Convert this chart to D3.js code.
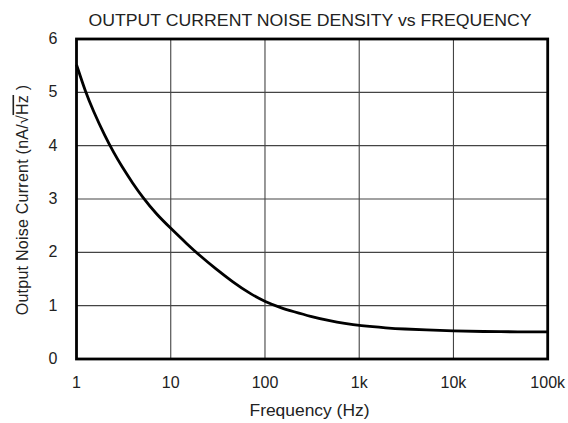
<!DOCTYPE html>
<html>
<head>
<meta charset="utf-8">
<script src="https://cdn.jsdelivr.net/npm/d3@7"></script>
<style>
  body { margin: 0; background: #fff; }
  text { font-family: "Liberation Sans", Arial, sans-serif; fill: #222; }
</style>
</head>
<body>
<div class="chart"></div>
<script>
// Data
var freqs = [1, 1.25, 1.5, 2, 2.5, 3, 4, 5, 7, 10, 15, 20, 30, 45, 70, 100, 150, 200, 300, 500, 700,
             1000, 2000, 3000, 5000, 10000, 20000, 50000, 100000];
var noise = [5.52, 5.0, 4.66, 4.18, 3.86, 3.62, 3.28, 3.04, 2.72, 2.45, 2.15, 1.95, 1.69, 1.45, 1.22,
             1.075, 0.955, 0.89, 0.8, 0.71, 0.665, 0.625, 0.58, 0.562, 0.545, 0.527, 0.515, 0.508, 0.51];
var xTicks = [1, 10, 100, 1000, 10000, 100000];
var xTickLabels = ["1", "10", "100", "1k", "10k", "100k"];
var yTicks = [0, 1, 2, 3, 4, 5, 6];

var svgWidth = 568, svgHeight = 423;
var margin = {top: 39, left: 76.5};
var width = 547.7 - margin.left;
var height = 359 - margin.top;

var svg = d3.select(".chart")
  .append("svg")
  .attr("width", svgWidth)
  .attr("height", svgHeight);

var chartGroup = svg.append("g")
  .attr("transform", `translate(${margin.left}, ${margin.top})`);

var xScale = d3.scaleLog().domain([1, 100000]).range([0, width]);
var yScale = d3.scaleLinear().domain([0, 6]).range([height, 0]);

// Grid
chartGroup.append("g")
  .selectAll("line")
  .data(xTicks)
  .enter()
  .append("line")
  .attr("x1", d => xScale(d))
  .attr("x2", d => xScale(d))
  .attr("y1", 0)
  .attr("y2", height)
  .attr("stroke", "#444")
  .attr("stroke-width", 1.1);
chartGroup.append("g")
  .selectAll("line")
  .data(yTicks)
  .enter()
  .append("line")
  .attr("x1", 0)
  .attr("x2", width)
  .attr("y1", d => yScale(d))
  .attr("y2", d => yScale(d))
  .attr("stroke", "#444")
  .attr("stroke-width", 1.1);

// Frame
chartGroup.append("rect")
  .attr("x", 0)
  .attr("y", 0)
  .attr("width", width)
  .attr("height", height)
  .attr("fill", "none")
  .attr("stroke", "#000")
  .attr("stroke-width", 2.8);

// Curve
var line = d3.line()
  .x((d, i) => xScale(freqs[i]))
  .y(d => yScale(d))
  .curve(d3.curveBasis);
chartGroup.append("path")
  .datum(noise)
  .attr("d", line)
  .attr("fill", "none")
  .attr("stroke", "#000")
  .attr("stroke-width", 2.8);

// Tick labels
chartGroup.selectAll(".xlab")
  .data(xTicks)
  .enter()
  .append("text")
  .attr("class", "xlab")
  .attr("x", d => xScale(d))
  .attr("y", height + 29)
  .attr("text-anchor", "middle")
  .style("font-size", "16px")
  .text((d, i) => xTickLabels[i]);
chartGroup.selectAll(".ylab")
  .data(yTicks)
  .enter()
  .append("text")
  .attr("class", "ylab")
  .attr("x", -19)
  .attr("y", d => yScale(d) + 5)
  .attr("text-anchor", "end")
  .style("font-size", "16px")
  .text(d => d);

// Title and axis labels
svg.append("text")
  .attr("x", 310)
  .attr("y", 26)
  .attr("text-anchor", "middle")
  .attr("textLength", 443)
  .attr("lengthAdjust", "spacingAndGlyphs")
  .style("font-size", "16px")
  .text("OUTPUT CURRENT NOISE DENSITY vs FREQUENCY");
svg.append("text")
  .attr("x", 309.5)
  .attr("y", 416)
  .attr("text-anchor", "middle")
  .attr("textLength", 120)
  .attr("lengthAdjust", "spacingAndGlyphs")
  .style("font-size", "16px")
  .text("Frequency (Hz)");

var yLabel = svg.append("text")
  .attr("transform", "translate(27.5, 200) rotate(-90)")
  .attr("text-anchor", "middle")
  .style("font-size", "16px")
  .style("letter-spacing", "0.25px");
yLabel.append("tspan").text("Output Noise Current (nA/\u221A");
yLabel.append("tspan").style("text-decoration", "overline").text("Hz");
yLabel.append("tspan").text(" )");
</script>
</body>
</html>
